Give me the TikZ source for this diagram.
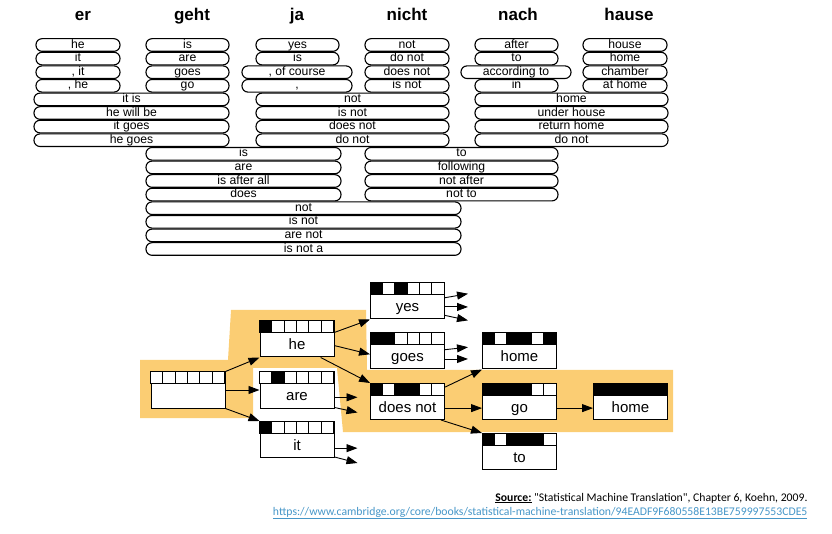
\documentclass[tikz,border=0pt]{standalone}
\usepackage{fontspec}
\setmainfont{Liberation Sans}
\newfontfamily\srcfont{Carlito}
\usetikzlibrary{positioning, arrows.meta}

\definecolor{pathhl}{RGB}{251,205,115}
\definecolor{linkblue}{RGB}{70,150,200}
\colorlet{on}{black}
\colorlet{off}{white}

\tikzset{
  head/.style={font=\bfseries\fontsize{17}{20}\selectfont, anchor=base},
  phrase/.style={draw, line width=1.1pt, fill=white, rounded corners=6pt,
    minimum height=12.6pt, inner sep=0pt, text height=8.6pt, text depth=2.2pt,
    font=\fontsize{12.2}{13}\selectfont},
  hyp/.style={draw, line width=1pt, fill=white, minimum width=74pt, inner sep=0pt,
    text height=28.5pt, text depth=7.5pt, font=\fontsize{15}{16}\selectfont},
  bitcell/.style={draw, line width=0.8pt},
  arr/.style={-{Triangle[length=11pt, width=8pt]}, line width=0.9pt},
}

% one column of translation options: name, left x, right x, first row, texts
\newcommand{\phrasecol}[5]{%
  \foreach \txt [count=\row from #4] in {#5}
    \node[phrase, minimum width={(#3-#2)*1pt}] (#1-\row)
      at ({(#2+#3)/2}, {488-13.6*(\row-1)}) {\txt};
}
% coverage vector on top of a hypothesis box
\newcommand{\coverage}[2]{%
  \foreach \bit [count=\k from 0] in {#2}
    \draw[bitcell, fill=\bit] ([xshift={\k*74pt/6}]#1.north west) rectangle ++(74/6,-12);
}

\begin{document}
\begin{tikzpicture}[x=1pt, y=1pt, node distance=13pt]
  \useasboundingbox (0,0) rectangle (832,533);

  % source words
  \foreach \w/\x in {er/83, geht/192, ja/297, nicht/407, nach/518, hause/629}
    \node[head] (w-\w) at (\x, 512) {\w};

  % translation options
  \phrasecol{er}{36}{120}{1}{he, it, {, it}, {, he}}
  \phrasecol{geht}{146}{229}{1}{is, are, goes, go}
  \phrasecol{ja}{256}{339}{1}{yes, is}
  \phrasecol{ja}{242}{352}{3}{{, of course}, {,}}
  \phrasecol{nicht}{365}{449}{1}{not, do not, does not, is not}
  \phrasecol{nach}{475}{558}{1}{after, to}
  \phrasecol{nach}{461}{571}{3}{according to}
  \phrasecol{nach}{475}{558}{4}{in}
  \phrasecol{hause}{583}{667}{1}{house, home, chamber, at home}
  \phrasecol{ergeht}{34}{229}{5}{it is, he will be, it goes, he goes}
  \phrasecol{janicht}{256}{449}{5}{not, is not, does not, do not}
  \phrasecol{nachhause}{475}{668}{5}{home, under house, return home, do not}
  \phrasecol{gehtja}{146}{341}{9}{is, are, is after all, does}
  \phrasecol{nichtnach}{365}{558}{9}{to, following, not after, not to}
  \phrasecol{gehtjanicht}{146}{461}{13}{not, is not, are not, is not a}

  % best path
  \fill[pathhl] (140,115) -- (140,173) -- (228,173) -- (231,223) -- (366,223)
    -- (367,163) -- (673,163) -- (673,101) -- (343,101) -- (337,165)
    -- (253,165) -- (253,115) -- cycle;

  % hypotheses
  \node[hyp] (are) at (297,143) {are};
  \node[hyp] (he) [above=14pt of are] {he};
  \node[hyp] (it) [below=12.5pt of are] {it};
  \node[hyp] (root) [left=34pt of are] {};
  \node[hyp] (dnot) at (407.5,131.5) {does not};
  \node[hyp] (goes) [above=13.5pt of dnot] {goes};
  \node[hyp] (yes) [above=of goes] {yes};
  \node[hyp] (go) [right=37pt of dnot] {go};
  \node[hyp] (home1) [above=13.5pt of go] {home};
  \node[hyp] (to) [below=of go] {to};
  \node[hyp] (home2) [right=36pt of go] {home};

  \coverage{root}{off,off,off,off,off,off}
  \coverage{he}{on,off,off,off,off,off}
  \coverage{are}{off,on,off,off,off,off}
  \coverage{it}{on,off,off,off,off,off}
  \coverage{yes}{on,off,on,off,off,off}
  \coverage{goes}{on,on,off,off,off,off}
  \coverage{dnot}{on,off,on,on,off,off}
  \coverage{home1}{on,off,on,on,off,on}
  \coverage{go}{on,on,on,on,off,off}
  \coverage{to}{on,off,on,on,on,off}
  \coverage{home2}{on,on,on,on,on,on}

  \path[arr]
    (root.north east) edge (he.south west)
    (root.east) edge (are.west)
    (root.south east) edge (it.north west)
    (he.10) edge (yes.south west)
    (he.-10) edge (goes.185)
    (he.-38) edge (dnot.north west)
    (dnot.21) edge (home1.south west)
    (dnot.-10) edge (go.190)
    (dnot.-29) edge (to.north west)
    (go.-10) edge (home2.190);

  % expansions not followed further
  \foreach \src/\ang/\dy [count=\k] in {are/-11/0, are/-25/-5, it/-13/0, it/-25/-6,
      yes/5/4, yes/-9/0, yes/-21/-5, goes/2/2.5, goes/-12/0}
    \draw[arr] (\src.\ang) -- ++(23,\dy) coordinate (stub-\k);

  % source
  \node[anchor=base east, font=\srcfont\fontsize{11.7}{13}\selectfont] (src) at (811,32)
    {\underline{\textbf{Source:}} "Statistical Machine Translation", Chapter 6, Koehn, 2009.};
  \node[anchor=base east, text=linkblue, font=\srcfont\fontsize{11.7}{13}\selectfont] (url) at (811,18)
    {\underline{https://www.cambridge.org/core/books/statistical-machine-translation/94EADF9F680558E13BE759997553CDE5}};
\end{tikzpicture}
\end{document}
